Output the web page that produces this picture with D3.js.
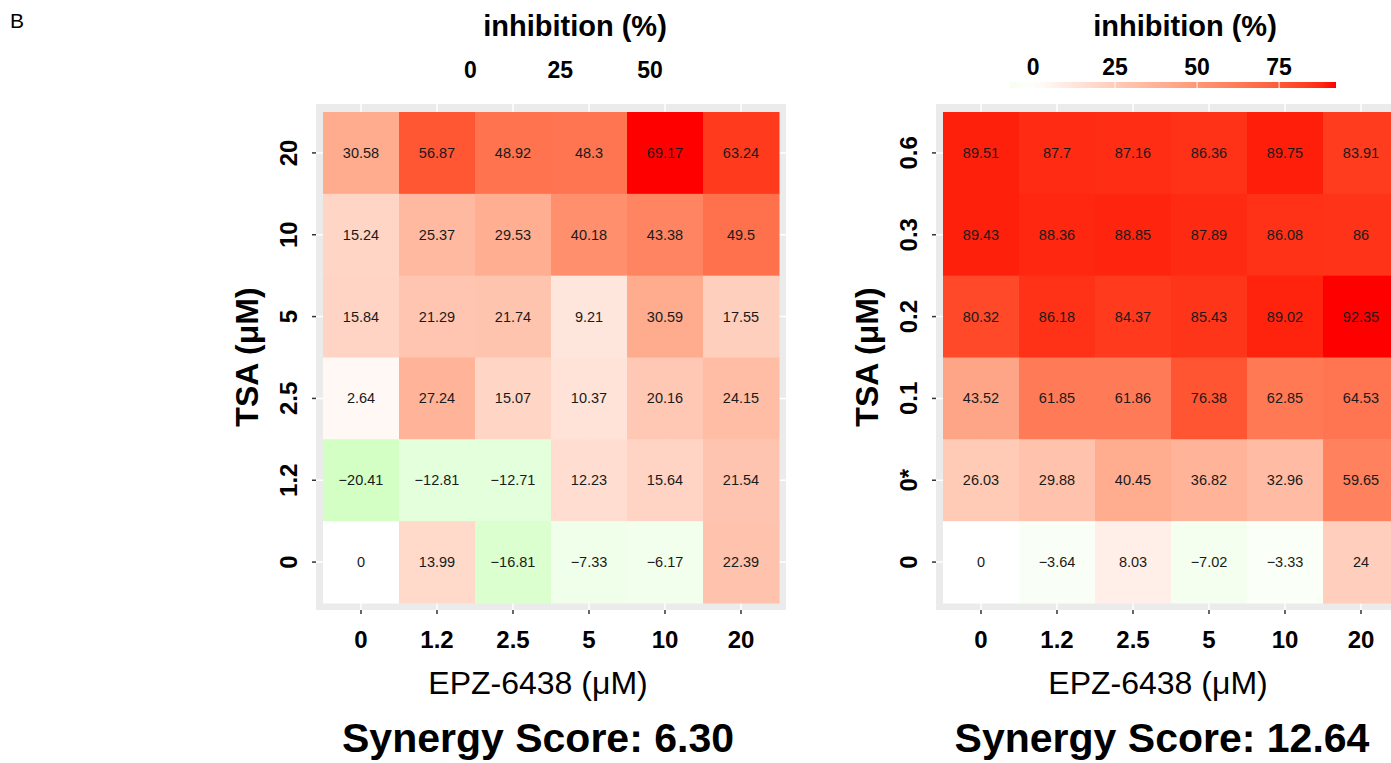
<!DOCTYPE html>
<html>
<head>
<meta charset="utf-8">
<script src="https://cdn.jsdelivr.net/npm/d3@7"></script>
<style>
  body { margin: 0; background: #fff; }
  svg { display: block; font-family: "Liberation Sans", Arial, sans-serif; }
</style>
</head>
<body>
<svg id="chart" width="1391" height="763"></svg>
<script>
// ---- data ----
const epzDoses = ["0", "1.2", "2.5", "5", "10", "20"];
const tsaDosesLeft = ["20", "10", "5", "2.5", "1.2", "0"];      // top to bottom
const tsaDosesRight = ["0.6", "0.3", "0.2", "0.1", "0*", "0"];  // top to bottom

const inhibitionLeft = [
  [30.58, 56.87, 48.92, 48.3, 69.17, 63.24],
  [15.24, 25.37, 29.53, 40.18, 43.38, 49.5],
  [15.84, 21.29, 21.74, 9.21, 30.59, 17.55],
  [2.64, 27.24, 15.07, 10.37, 20.16, 24.15],
  [-20.41, -12.81, -12.71, 12.23, 15.64, 21.54],
  [0, 13.99, -16.81, -7.33, -6.17, 22.39]
];
const inhibitionRight = [
  [89.51, 87.7, 87.16, 86.36, 89.75, 83.91],
  [89.43, 88.36, 88.85, 87.89, 86.08, 86],
  [80.32, 86.18, 84.37, 85.43, 89.02, 92.35],
  [43.52, 61.85, 61.86, 76.38, 62.85, 64.53],
  [26.03, 29.88, 40.45, 36.82, 32.96, 59.65],
  [0, -3.64, 8.03, -7.02, -3.33, 24]
];
const legendTicksLeft = [0, 25, 50];
const legendTicksRight = [0, 25, 50, 75];
const synergyLeft = "6.30";
const synergyRight = "12.64";

// ---- drawing ----
const svg = d3.select("#chart");

svg.append("text").attr("x", 10).attr("y", 28)
  .attr("font-size", 21).attr("fill", "#000").text("B");

function fmt(v) {
  const s = String(v);
  return v < 0 ? "\u2212" + s.slice(1) : s;
}

function drawPanel(cfg) {
  const g = svg.append("g");
  const vals = cfg.data.flat();
  const vmin = d3.min(vals), vmax = d3.max(vals);
  const M = Math.max(Math.abs(vmin), Math.abs(vmax));
  const color = d3.scaleLinear().domain([-M, 0, M])
    .range(["#00FF00", "#FFFFFF", "#FF0000"])
    .interpolate(d3.interpolateLab);

  const x = d3.scaleBand().domain(epzDoses).range([cfg.x0, cfg.x0 + 456]);
  const y = d3.scaleBand().domain(cfg.rows).range([112, 603]);

  // panel background
  g.append("rect")
    .attr("x", cfg.x0 - 7).attr("y", 104)
    .attr("width", 456 + 14).attr("height", 603 - 104 + 7)
    .attr("fill", "#EBEBEB");
  // grid lines
  g.selectAll("line.gx").data(epzDoses).join("line")
    .attr("x1", d => x(d) + x.bandwidth() / 2).attr("x2", d => x(d) + x.bandwidth() / 2)
    .attr("y1", 104).attr("y2", 610)
    .attr("stroke", "#fff").attr("stroke-width", 1.5);
  g.selectAll("line.gy").data(cfg.rows).join("line")
    .attr("y1", d => y(d) + y.bandwidth() / 2).attr("y2", d => y(d) + y.bandwidth() / 2)
    .attr("x1", cfg.x0 - 7).attr("x2", cfg.x0 + 463)
    .attr("stroke", "#fff").attr("stroke-width", 1.5);

  const cells = [];
  cfg.data.forEach((row, i) => row.forEach((v, j) => cells.push({ r: cfg.rows[i], c: epzDoses[j], v })));

  g.selectAll("rect.cell").data(cells).join("rect")
    .attr("x", d => x(d.c)).attr("y", d => y(d.r))
    .attr("width", x.bandwidth() + 0.5).attr("height", y.bandwidth() + 0.5)
    .attr("fill", d => color(d.v));

  g.selectAll("text.cell").data(cells).join("text")
    .attr("x", d => x(d.c) + x.bandwidth() / 2)
    .attr("y", d => y(d.r) + y.bandwidth() / 2)
    .attr("dy", "0.35em").attr("text-anchor", "middle")
    .attr("font-size", 14.5).attr("fill", "#1a1a1a")
    .text(d => fmt(d.v));

  // axes
  const xAxis = g.append("g").attr("transform", "translate(0,610)")
    .call(d3.axisBottom(x).tickSize(4).tickPadding(17));
  xAxis.select(".domain").remove();
  xAxis.selectAll(".tick line").attr("stroke", "#333").attr("stroke-width", 1.5);
  xAxis.selectAll(".tick text").attr("font-size", 24).attr("font-weight", "bold")
    .attr("fill", "#000").attr("font-family", "Liberation Sans, Arial, sans-serif");

  const yAxis = g.append("g").attr("transform", `translate(${cfg.x0 - 7},0)`)
    .call(d3.axisLeft(y).tickSize(4).tickPadding(0));
  yAxis.select(".domain").remove();
  yAxis.selectAll(".tick line").attr("stroke", "#333").attr("stroke-width", 1.5);
  yAxis.selectAll(".tick text")
    .attr("font-size", 24).attr("font-weight", "bold").attr("fill", "#000")
    .attr("font-family", "Liberation Sans, Arial, sans-serif")
    .attr("text-anchor", "middle").attr("dy", 0)
    .attr("x", 0).attr("y", 0)
    .attr("transform", "translate(-19,0) rotate(-90)");

  // axis titles
  g.append("text")
    .attr("transform", `translate(${cfg.x0 - 65},${357}) rotate(-90)`)
    .attr("text-anchor", "middle").attr("font-size", 32).attr("font-weight", "bold")
    .attr("fill", "#000").text("TSA (\u03bcM)");
  g.append("text")
    .attr("x", cfg.x0 + 215).attr("y", 694)
    .attr("text-anchor", "middle").attr("font-size", 32)
    .attr("fill", "#000").text("EPZ-6438 (\u03bcM)");
  g.append("text")
    .attr("x", cfg.synX).attr("y", 752)
    .attr("text-anchor", "middle").attr("font-size", 41).attr("font-weight", "bold")
    .attr("fill", "#000").text("Synergy Score: " + cfg.syn);

  // legend
  g.append("text")
    .attr("x", cfg.legTitleX).attr("y", 36)
    .attr("text-anchor", "middle").attr("font-size", 29).attr("font-weight", "bold")
    .attr("fill", "#000").text("inhibition (%)");
  const lx = d3.scaleLinear().domain([vmin, vmax]).range(cfg.legRange);
  if (cfg.showBar) {
    const gradId = "grad" + cfg.x0;
    const grad = svg.append("defs").append("linearGradient").attr("id", gradId);
    d3.range(0, 21).forEach(k => {
      const v = vmin + (vmax - vmin) * k / 20;
      grad.append("stop").attr("offset", (k * 5) + "%").attr("stop-color", color(v));
    });
    g.append("rect")
      .attr("x", cfg.legRange[0]).attr("y", 82)
      .attr("width", cfg.legRange[1] - cfg.legRange[0]).attr("height", 6)
      .attr("fill", `url(#${gradId})`);
    g.selectAll("line.lt").data(cfg.legTicks).join("line")
      .attr("x1", d => lx(d)).attr("x2", d => lx(d))
      .attr("y1", 82).attr("y2", 88)
      .attr("stroke", "#fff").attr("stroke-width", 1);
  }
  g.selectAll("text.lt").data(cfg.legTicks).join("text")
    .attr("x", d => lx(d)).attr("y", cfg.legLabelY)
    .attr("text-anchor", "middle").attr("font-size", 23).attr("font-weight", "bold")
    .attr("fill", "#000").text(d => d);
}

drawPanel({
  x0: 323, rows: tsaDosesLeft, data: inhibitionLeft, syn: synergyLeft, synX: 538,
  legTitleX: 575, legRange: [397, 719], legTicks: legendTicksLeft, legLabelY: 78, showBar: false
});
drawPanel({
  x0: 943, rows: tsaDosesRight, data: inhibitionRight, syn: synergyRight, synX: 1162,
  legTitleX: 1185, legRange: [1010, 1336], legTicks: legendTicksRight, legLabelY: 75, showBar: true
});
</script>
</body>
</html>
